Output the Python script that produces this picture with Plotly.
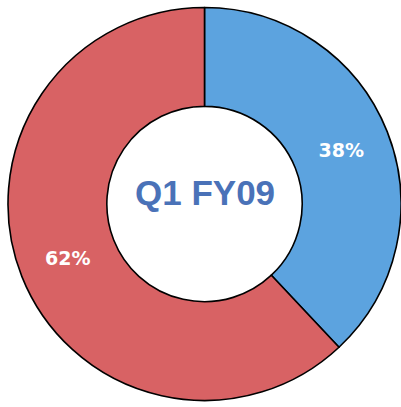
import plotly.graph_objects as go

labels = ["Segment A", "Segment B"]
values = [38, 62]
colors = ["#5CA3DF", "#D86264"]
center_text = "Q1 FY09"

fig = go.Figure(go.Pie(
    labels=labels,
    values=values,
    hole=0.497,
    sort=False,
    direction="clockwise",
    rotation=0,
    marker=dict(colors=colors, line=dict(color="black", width=1.6)),
    textinfo="percent",
    texttemplate="%{percent:.0%}",
    textposition="inside",
    insidetextorientation="horizontal",
    textfont=dict(family="DejaVu Sans", size=19, color="white", weight="bold"),
    showlegend=False,
    hoverinfo="skip",
))

fig.update_layout(
    width=401, height=407,
    margin=dict(l=8, r=0, t=6, b=5, pad=0),
    paper_bgcolor="white",
    plot_bgcolor="white",
    annotations=[dict(
        text=center_text, x=0.5, y=0.5, xref="paper", yref="paper",
        showarrow=False, yshift=12,
        font=dict(family="Liberation Sans", size=35, color="#4A72B8", weight="bold"),
    )],
)

fig.write_html("out.html", config={"displayModeBar": False},
               post_script="document.body.style.margin='0px';")
